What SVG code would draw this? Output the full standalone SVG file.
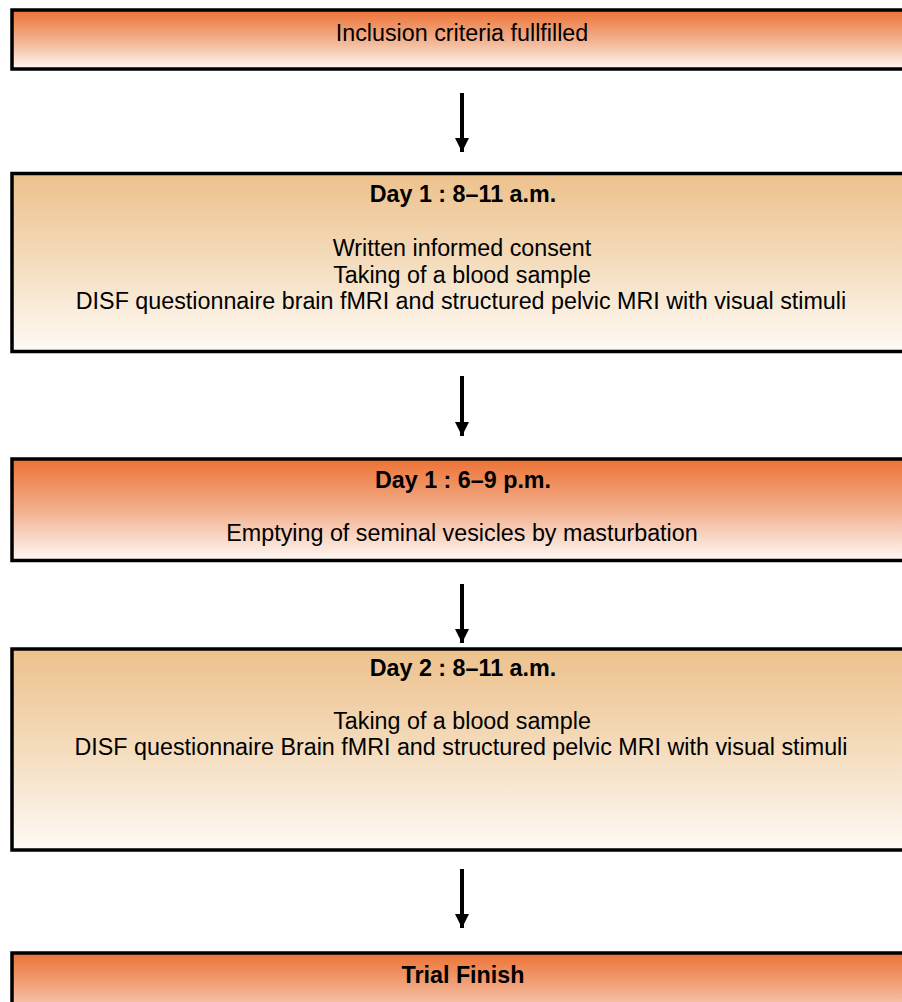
<svg xmlns="http://www.w3.org/2000/svg" width="902" height="1002" viewBox="0 0 902 1002">
<defs>
<linearGradient id="gOr" x1="0" y1="0" x2="0" y2="1">
<stop offset="0" stop-color="#ED7235"/>
<stop offset="0.5" stop-color="#F2AF8C"/>
<stop offset="1" stop-color="#FEF8F4"/>
</linearGradient>
<linearGradient id="gTan" x1="0" y1="0" x2="0" y2="1">
<stop offset="0" stop-color="#EDC18C"/>
<stop offset="0.5" stop-color="#F4DCBD"/>
<stop offset="1" stop-color="#FEFAF5"/>
</linearGradient>
<marker id="ah" viewBox="0 0 14 14" refX="14" refY="7" markerWidth="14" markerHeight="14" markerUnits="userSpaceOnUse" orient="auto">
<path d="M0,0 L14,7 L0,14 Z" fill="#000"/>
</marker>
<style>
.box{stroke:#000;stroke-width:3.5}
.or{fill:url(#gOr)}
.tan{fill:url(#gTan)}
text{font-family:"Liberation Sans",Arial,sans-serif;font-size:23.3px;fill:#000;text-anchor:middle}
.b{font-weight:bold}
.arr{stroke:#000;stroke-width:4;fill:none}
</style>
</defs>
<g id="n1">
<rect class="box or" x="12" y="10" width="920" height="59"/>
<text x="462" y="41">Inclusion criteria fullfilled</text>
</g>
<g id="n2">
<rect class="box tan" x="12" y="173.5" width="920" height="178"/>
<text class="b" x="463" y="201.5">Day 1 : 8–11 a.m.</text>
<text x="462" y="256">Written informed consent</text>
<text x="462" y="282.5">Taking of a blood sample</text>
<text x="461" y="309">DISF questionnaire brain fMRI and structured pelvic MRI with visual stimuli</text>
</g>
<g id="n3">
<rect class="box or" x="12" y="459" width="920" height="101.5"/>
<text class="b" x="463" y="488">Day 1 : 6–9 p.m.</text>
<text x="462" y="541">Emptying of seminal vesicles by masturbation</text>
</g>
<g id="n4">
<rect class="box tan" x="12" y="649" width="920" height="201"/>
<text class="b" x="463" y="676">Day 2 : 8–11 a.m.</text>
<text x="462" y="729">Taking of a blood sample</text>
<text x="461" y="755">DISF questionnaire Brain fMRI and structured pelvic MRI with visual stimuli</text>
</g>
<g id="n5">
<rect class="box or" x="12" y="953" width="920" height="80"/>
<text class="b" x="463" y="983">Trial Finish</text>
</g>
<g id="connectors">
<line class="arr" x1="462" y1="93" x2="462" y2="152" marker-end="url(#ah)"/>
<line class="arr" x1="462" y1="376" x2="462" y2="436" marker-end="url(#ah)"/>
<line class="arr" x1="462" y1="584" x2="462" y2="643" marker-end="url(#ah)"/>
<line class="arr" x1="462" y1="869" x2="462" y2="928" marker-end="url(#ah)"/>
</g>
</svg>
